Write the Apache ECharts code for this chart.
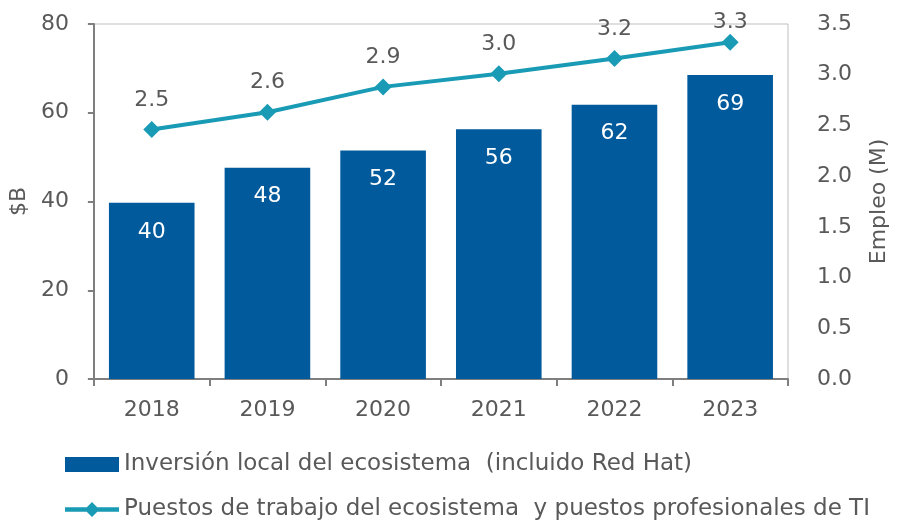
<!DOCTYPE html>
<html>
<head>
<meta charset="utf-8">
<script src="https://cdn.jsdelivr.net/npm/echarts@6/dist/echarts.min.js"></script>
<style>
html,body{margin:0;padding:0;background:#fff;}
#chart{width:898px;height:524px;}
</style>
</head>
<body>
<div id="chart"></div>
<script>
var years = ['2018','2019','2020','2021','2022','2023'];
var investment = [39.7, 47.6, 51.5, 56.3, 61.8, 68.5];
var employment = [2.46, 2.63, 2.88, 3.01, 3.16, 3.32];
var barName = 'Inversión local del ecosistema  (incluido Red Hat)';
var lineName = 'Puestos de trabajo del ecosistema  y puestos profesionales de TI';
var leftTicks = [0, 20, 40, 60, 80];
var rightTicks = [0, 0.5, 1, 1.5, 2, 2.5, 3, 3.5];

var FONT = 'DejaVu Sans';
var TXT = '#595959';
var legendBase = {
  orient: 'horizontal', left: 60, itemWidth: 54, itemHeight: 15,
  textStyle: {fontFamily: FONT, fontSize: 23, color: TXT}
};
// last point sits near the top edge: pull its label down so it fits
var lineData = employment.map(function(v, i){
  return i === employment.length - 1 ? {value: v, label: {distance: 0}} : v;
});
var chart = echarts.init(document.getElementById('chart'), null, {renderer:'canvas'});
chart.setOption({
  animation: false,
  textStyle: {fontFamily: FONT},
  grid: {left: 92, right: 104, top: 24, bottom: 145, show: true, borderColor: '#bfbfbf', borderWidth: 1},
  legend: [
    Object.assign({}, legendBase, {top: 448, data: [{name: barName, icon: 'rect'}]}),
    Object.assign({}, legendBase, {top: 493, data: [{name: lineName,
      icon: 'path://M0,5.2 L54,5.2 L54,9.8 L0,9.8 Z M27,0 L34.5,7.5 L27,15 L19.5,7.5 Z'}]})
  ],
  xAxis: {
    type: 'category', data: years,
    axisLine: {lineStyle: {color: '#7f7f7f', width: 2}},
    axisTick: {show: true, length: 7, lineStyle: {color: '#7f7f7f', width: 2}},
    axisLabel: {color: TXT, fontSize: 22, margin: 20, fontFamily: FONT}
  },
  yAxis: [{
    type: 'value', min: leftTicks[0], max: leftTicks[leftTicks.length-1], interval: 20,
    name: '$B', nameLocation: 'middle', nameRotate: 90, nameGap: 58,
    nameTextStyle: {color: TXT, fontSize: 22, fontFamily: FONT},
    axisLine: {show: true, lineStyle: {color: '#7f7f7f', width: 2}},
    axisTick: {show: true, length: 6, lineStyle: {color: '#7f7f7f', width: 2}},
    splitLine: {show: false},
    axisLabel: {color: TXT, fontSize: 22, margin: 25, fontFamily: FONT}
  }, {
    type: 'value', min: rightTicks[0], max: rightTicks[rightTicks.length-1], interval: 0.5,
    name: 'Empleo (M)', nameLocation: 'middle', nameRotate: 90, nameGap: 80,
    nameTextStyle: {color: TXT, fontSize: 22, fontFamily: FONT},
    axisLine: {show: false},
    axisTick: {show: false},
    splitLine: {show: false},
    axisLabel: {color: TXT, fontSize: 22, margin: 29, fontFamily: FONT,
      formatter: function(v){ return v.toFixed(1); }}
  }],
  series: [{
    name: barName, type: 'bar', data: investment, yAxisIndex: 0,
    barCategoryGap: '26%',
    itemStyle: {color: '#005a9c'},
    label: {show: true, position: 'insideTop', distance: 18, color: '#ffffff', fontSize: 22, fontFamily: FONT,
      formatter: function(p){ return Math.round(p.value); }}
  }, {
    name: lineName, type: 'line', data: lineData, yAxisIndex: 1,
    symbol: 'diamond', symbolSize: 17,
    lineStyle: {color: '#1a9bb5', width: 4},
    itemStyle: {color: '#1a9bb5'},
    label: {show: true, position: 'top', distance: 10, color: TXT, fontSize: 22, fontFamily: FONT,
      formatter: function(p){ return Number(p.value).toFixed(1); }}
  }]
});
</script>
</body>
</html>
